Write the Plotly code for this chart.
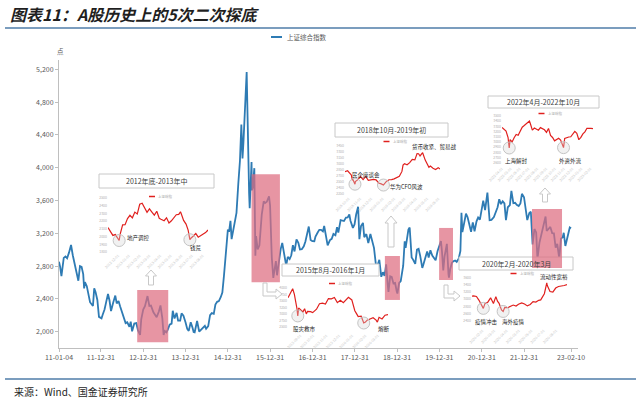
import plotly.graph_objects as go

W, H = 640, 403
def px(x): return x / W
def py(y): return 1 - y / H

FONT = "Noto Sans CJK SC"

# ---------------- main series: 上证综合指数 ----------------
main_dates = [
 "2011-01-04","2011-01-14","2011-01-25","2011-02-14","2011-03-01","2011-03-15","2011-04-01","2011-04-18","2011-05-03","2011-05-16",
 "2011-06-01","2011-06-20","2011-07-04","2011-07-18","2011-08-01","2011-08-09","2011-08-16","2011-09-01","2011-09-15","2011-09-29",
 "2011-10-24","2011-11-04","2011-11-16","2011-12-01","2011-12-15","2011-12-28",
 "2012-01-06","2012-01-16","2012-02-01","2012-02-15","2012-03-02","2012-03-15","2012-03-28","2012-04-16","2012-05-04","2012-05-16",
 "2012-06-01","2012-06-15","2012-07-02","2012-07-16","2012-08-01","2012-08-15","2012-09-03","2012-09-14","2012-09-26","2012-10-15",
 "2012-11-01","2012-11-16","2012-12-04","2012-12-14","2012-12-31",
 "2013-01-15","2013-02-06","2013-02-22","2013-03-08","2013-03-29","2013-04-15","2013-04-26","2013-05-15","2013-05-29","2013-06-14",
 "2013-06-25","2013-07-05","2013-07-19","2013-08-01","2013-08-16","2013-09-02","2013-09-12","2013-09-27","2013-10-15","2013-10-28",
 "2013-11-15","2013-11-27","2013-12-13","2013-12-31",
 "2014-01-15","2014-01-28","2014-02-14","2014-02-28","2014-03-11","2014-03-20","2014-04-10","2014-04-28","2014-05-15","2014-05-30",
 "2014-06-16","2014-06-27","2014-07-15","2014-07-31","2014-08-15","2014-09-01","2014-09-15","2014-09-30","2014-10-15","2014-10-31",
 "2014-11-14","2014-11-28","2014-12-09","2014-12-19","2014-12-31",
 "2015-01-12","2015-01-23","2015-02-02","2015-02-16","2015-03-02","2015-03-16","2015-04-01","2015-04-15","2015-04-27","2015-05-07",
 "2015-05-15","2015-05-28","2015-06-01","2015-06-12","2015-06-19","2015-06-26","2015-07-03","2015-07-08","2015-07-15","2015-07-24",
 "2015-07-27","2015-08-04","2015-08-17","2015-08-26","2015-09-01","2015-09-15","2015-09-30","2015-10-20","2015-11-06","2015-11-18",
 "2015-12-03","2015-12-22","2015-12-31",
 "2016-01-07","2016-01-15","2016-01-28","2016-02-19","2016-02-29","2016-03-15","2016-04-01","2016-04-14","2016-04-29","2016-05-18",
 "2016-06-01","2016-06-17","2016-07-01","2016-07-15","2016-07-29","2016-08-15","2016-08-31","2016-09-14","2016-09-30","2016-10-17",
 "2016-10-31","2016-11-15","2016-11-29","2016-12-15","2016-12-30",
 "2017-01-16","2017-01-26","2017-02-15","2017-02-28","2017-03-15","2017-03-31","2017-04-11","2017-04-28","2017-05-11","2017-05-31",
 "2017-06-15","2017-06-30","2017-07-17","2017-07-31","2017-08-11","2017-08-31","2017-09-15","2017-09-29","2017-10-16","2017-10-31",
 "2017-11-14","2017-11-24","2017-12-15","2017-12-29",
 "2018-01-12","2018-01-29","2018-02-09","2018-02-23","2018-03-12","2018-03-23","2018-04-10","2018-04-27","2018-05-15","2018-05-31",
 "2018-06-15","2018-06-29","2018-07-06","2018-07-20","2018-07-31","2018-08-17","2018-08-31","2018-09-14","2018-09-28","2018-10-11",
 "2018-10-18","2018-11-02","2018-11-15","2018-11-30","2018-12-14","2018-12-28",
 "2019-01-03","2019-01-18","2019-02-01","2019-02-22","2019-03-07","2019-03-15","2019-04-08","2019-04-19","2019-05-06","2019-05-17",
 "2019-06-06","2019-06-21","2019-07-05","2019-07-19","2019-08-06","2019-08-16","2019-09-02","2019-09-17","2019-09-30","2019-10-15",
 "2019-10-31","2019-11-15","2019-11-29","2019-12-16","2019-12-31",
 "2020-01-14","2020-01-23","2020-02-03","2020-02-14","2020-03-05","2020-03-19","2020-03-23","2020-04-03","2020-04-17","2020-04-30",
 "2020-05-15","2020-05-29","2020-06-15","2020-06-30","2020-07-09","2020-07-17","2020-07-31","2020-08-17","2020-08-31","2020-09-15",
 "2020-09-30","2020-10-15","2020-10-30","2020-11-16","2020-11-30","2020-12-15","2020-12-31",
 "2021-01-13","2021-01-29","2021-02-18","2021-03-09","2021-03-25","2021-04-15","2021-04-30","2021-05-17","2021-05-31","2021-06-15",
 "2021-06-30","2021-07-15","2021-07-28","2021-08-13","2021-08-31","2021-09-13","2021-09-30","2021-10-15","2021-10-29","2021-11-15",
 "2021-11-30","2021-12-13","2021-12-31",
 "2022-01-14","2022-01-28","2022-02-15","2022-02-28","2022-03-15","2022-03-31","2022-04-15","2022-04-26","2022-05-13","2022-05-31",
 "2022-06-15","2022-07-05","2022-07-15","2022-07-29","2022-08-15","2022-08-31","2022-09-15","2022-09-30","2022-10-14","2022-10-31",
 "2022-11-15","2022-11-30","2022-12-09","2022-12-23","2022-12-30",
 "2023-01-13","2023-01-30","2023-02-10",
]
main_values = [
 2852,2791,2677,2900,2918,2896,2967,3057,2932,2860,
 2743,2621,2800,2790,2702,2527,2605,2555,2442,2359,
 2313,2528,2480,2387,2181,2163,
 2163,2206,2270,2360,2460,2380,2252,2357,2440,2345,
 2373,2306,2226,2170,2104,2115,2060,2123,2004,2100,
 2105,2015,1960,2151,2269,
 2310,2434,2314,2318,2237,2194,2177,2246,2321,2162,
 1959,2007,1992,2029,2085,2098,2255,2160,2230,2134,
 2135,2223,2196,2116,
 2034,2010,2115,2056,1997,1993,2130,2002,2025,2039,
 2072,2036,2067,2201,2226,2217,2331,2364,2373,2420,
 2478,2683,2856,3108,3235,
 3229,3351,3128,3246,3336,3449,3810,4084,4527,4112,
 4308,4620,4828,5166,4478,4192,3687,3507,3805,4070,
 3725,3756,3994,2927,3166,3005,3053,3425,3590,3568,
 3584,3651,3539,
 3125,2900,2656,2860,2688,2864,3010,3082,2938,2807,
 2913,2885,2932,3054,2979,3125,3085,3002,3005,3041,
 3100,3207,3282,3118,3104,
 3103,3159,3213,3242,3241,3223,3289,3155,3053,3117,
 3132,3192,3176,3273,3208,3361,3353,3349,3391,3393,
 3430,3353,3266,3307,
 3429,3523,3129,3289,3327,3153,3190,3082,3192,3095,
 3022,2847,2747,2829,2876,2669,2725,2681,2821,2583,
 2486,2676,2668,2588,2594,2494,
 2464,2596,2618,2804,3102,3021,3244,3270,2906,2882,
 2828,3001,3011,2924,2778,2823,2924,2979,2905,2992,
 2929,2891,2871,2984,3050,
 3106,2976,2746,2917,3071,2702,2660,2764,2838,2860,
 2868,2852,2890,2985,3451,3215,3310,3438,3396,3295,
 3218,3332,3225,3346,3392,3367,3473,
 3598,3483,3696,3360,3364,3398,3447,3518,3615,3556,
 3591,3564,3361,3517,3544,3716,3568,3572,3547,3533,
 3564,3681,3640,
 3521,3361,3446,3462,3064,3252,3211,2886,3084,3186,
 3305,3405,3228,3253,3277,3202,3199,3024,3072,2893,
 3135,3151,3206,3045,3089,
 3195,3270,3260,
]

tick_dates = ["2011-01-04","2011-12-31","2012-12-31","2013-12-31","2014-12-31","2015-12-31","2016-12-31",
              "2017-12-31","2018-12-31","2019-12-31","2020-12-31","2021-12-31","2023-02-10"]
tick_text = ["11-01-04","11-12-31","12-12-31","13-12-31","14-12-31","15-12-31","16-12-31",
             "17-12-31","18-12-31","19-12-31","20-12-31","21-12-31","23-02-10"]
y_ticks = [2000, 2400, 2800, 3200, 3600, 4000, 4400, 4800, 5200]

# highlighted windows (二次探底区间)
hl_start = ["2012-11-09","2015-07-24","2018-09-17","2019-12-29","2022-03-10"]
hl_end   = ["2013-08-04","2016-03-25","2019-01-25","2020-04-27","2022-11-24"]
hl_low   = [1871, 2602, 2387, 2630, 2777]
hl_high  = [2509, 3920, 2923, 3265, 3496]

# ---------------- inset series ----------------
ins1_dates = ["2012-11-02","2012-11-09","2012-11-16","2012-11-23","2012-11-30","2012-12-04","2012-12-07","2012-12-14","2012-12-21","2012-12-28",
              "2013-01-04","2013-01-11","2013-01-18","2013-01-25","2013-02-01","2013-02-06","2013-02-08","2013-02-22","2013-03-01","2013-03-08",
              "2013-03-15","2013-03-22","2013-03-29","2013-04-03","2013-04-12","2013-04-19","2013-04-26","2013-05-03","2013-05-10","2013-05-17",
              "2013-05-24","2013-05-29","2013-05-31","2013-06-07","2013-06-14","2013-06-20","2013-06-25","2013-06-28","2013-07-05","2013-07-12",
              "2013-07-19","2013-07-26","2013-08-02","2013-08-09","2013-08-16"]
ins1_values = [2117,2069,2015,2026,1980,1949,2033,2151,2153,2233,
               2276,2243,2317,2292,2419,2434,2432,2314,2359,2318,
               2278,2328,2237,2225,2206,2244,2177,2205,2246,2283,
               2288,2321,2300,2210,2162,2084,1959,1979,2007,2039,
               1992,2010,2029,2052,2085]
ins1_marks_d = ["2012-12-04","2013-06-25"]
ins1_marks_v = [1949, 1959]

ins2_dates = ["2015-08-03","2015-08-07","2015-08-14","2015-08-18","2015-08-21","2015-08-24","2015-08-26","2015-08-28","2015-09-02","2015-09-07",
              "2015-09-11","2015-09-15","2015-09-18","2015-09-25","2015-09-30","2015-10-09","2015-10-16","2015-10-23","2015-10-30","2015-11-06",
              "2015-11-13","2015-11-20","2015-11-27","2015-12-04","2015-12-11","2015-12-18","2015-12-23","2015-12-31","2016-01-04","2016-01-07",
              "2016-01-11","2016-01-15","2016-01-22","2016-01-26","2016-01-28","2016-02-01","2016-02-05","2016-02-19","2016-02-26","2016-02-29",
              "2016-03-04","2016-03-11","2016-03-18","2016-03-25"]
ins2_values = [3623,3744,3965,3749,3508,3210,2927,3232,3160,3080,
               3200,3005,3097,3092,3053,3183,3391,3412,3383,3590,
               3580,3630,3436,3525,3434,3578,3636,3539,3296,3125,
               3016,2900,2916,2750,2656,2689,2763,2860,2767,2688,
               2874,2810,2955,2979]
ins2_marks_d = ["2015-08-26","2016-01-28"]
ins2_marks_v = [2927, 2656]

ins3_dates = ["2018-09-21","2018-09-28","2018-10-08","2018-10-11","2018-10-12","2018-10-18","2018-10-19","2018-10-26","2018-11-02","2018-11-09",
              "2018-11-16","2018-11-23","2018-11-30","2018-12-07","2018-12-14","2018-12-21","2018-12-28","2019-01-03","2019-01-11","2019-01-18",
              "2019-01-25","2019-02-01","2019-02-15","2019-02-22","2019-02-25","2019-03-01","2019-03-08","2019-03-15","2019-03-22","2019-03-29",
              "2019-04-04","2019-04-08","2019-04-12","2019-04-19","2019-04-26","2019-05-06","2019-05-10","2019-05-17","2019-05-24","2019-05-31",
              "2019-06-05"]
ins3_values = [2797,2821,2716,2583,2606,2486,2550,2598,2676,2599,
               2679,2579,2588,2606,2594,2516,2494,2464,2554,2596,
               2601,2618,2682,2804,2961,2994,2969,3021,3104,3091,
               3247,3244,3189,3270,3086,2906,2939,2882,2853,2898,
               2862]
ins3_marks_d = ["2018-10-18","2019-01-03"]
ins3_marks_v = [2486, 2464]

ins4_dates = ["2020-01-06","2020-01-10","2020-01-17","2020-01-23","2020-02-03","2020-02-07","2020-02-14","2020-02-21","2020-02-28","2020-03-05",
              "2020-03-09","2020-03-13","2020-03-16","2020-03-19","2020-03-23","2020-03-27","2020-04-03","2020-04-10","2020-04-17","2020-04-24",
              "2020-04-30","2020-05-08","2020-05-15","2020-05-22","2020-05-29","2020-06-05","2020-06-12","2020-06-19","2020-06-24","2020-07-03",
              "2020-07-06","2020-07-09","2020-07-10","2020-07-17","2020-07-24","2020-07-31","2020-08-07","2020-08-14","2020-08-21","2020-08-28"]
ins4_values = [3083,3092,3075,2976,2746,2876,2917,3039,2880,3071,
               2943,2887,2789,2702,2660,2772,2764,2797,2838,2809,
               2860,2895,2868,2814,2852,2931,2920,2968,2980,3153,
               3332,3451,3384,3215,3197,3310,3354,3360,3381,3403]
ins4_marks_d = ["2020-02-03","2020-03-23"]
ins4_marks_v = [2746, 2660]

ins5_dates = ["2022-04-01","2022-04-08","2022-04-15","2022-04-22","2022-04-26","2022-04-29","2022-05-06","2022-05-13","2022-05-20","2022-05-27",
              "2022-06-02","2022-06-10","2022-06-17","2022-06-24","2022-07-01","2022-07-05","2022-07-08","2022-07-15","2022-07-22","2022-07-29",
              "2022-08-05","2022-08-12","2022-08-19","2022-08-26","2022-09-02","2022-09-09","2022-09-16","2022-09-23","2022-09-30","2022-10-14",
              "2022-10-21","2022-10-28","2022-10-31","2022-11-04","2022-11-11","2022-11-18","2022-11-25","2022-12-02","2022-12-09","2022-12-16",
              "2022-12-23","2022-12-30","2023-01-06","2023-01-13","2023-01-20","2023-02-03","2023-02-10"]
ins5_values = [3282,3251,3211,3087,2886,3047,3001,3084,3147,3131,
               3195,3285,3317,3350,3388,3405,3357,3228,3270,3253,
               3227,3277,3258,3236,3186,3262,3126,3088,3024,3072,
               3038,2916,2893,3071,3087,3097,3101,3156,3206,3168,
               3045,3089,3157,3195,3265,3263,3260]
ins5_marks_d = ["2022-04-26","2022-10-31"]
ins5_marks_v = [2886, 2893]

# ---------------- figure ----------------
fig = go.Figure()
BLUE = "#2E7BB4"
RED = "#E0201E"
GRAY_AX = "#BFBFBF"
TXT = "#595959"

fig.add_trace(go.Scatter(x=main_dates, y=main_values, mode="lines",
                         line=dict(color=BLUE, width=1.8), xaxis="x", yaxis="y",
                         showlegend=False, hoverinfo="skip"))

layout = dict(
    width=W, height=H, margin=dict(l=0, r=0, t=0, b=0),
    paper_bgcolor="white", plot_bgcolor="rgba(0,0,0,0)",
    template="none", showlegend=False,
    font=dict(family=FONT, color=TXT),
    xaxis=dict(domain=[px(59), px(578)], type="date", range=["2011-01-04", "2023-04-11"],
               tickvals=tick_dates, ticktext=tick_text, tickfont=dict(size=7, color=TXT),
               showline=True, linecolor=GRAY_AX, linewidth=1, ticks="outside", ticklen=3,
               tickcolor=GRAY_AX, showgrid=False, zeroline=False, automargin=False, anchor="y"),
    yaxis=dict(domain=[py(348), py(60)], range=[1801, 5313], tickvals=y_ticks,
               tickformat=",", tickfont=dict(size=7, color=TXT), showline=True,
               linecolor=GRAY_AX, linewidth=1, ticks="outside", ticklen=3, tickcolor=GRAY_AX,
               showgrid=False, zeroline=False, automargin=False, anchor="x"),
)

insets = [
    dict(d=ins1_dates, v=ins1_values, md=ins1_marks_d, mv=ins1_marks_v,
         dom=(108, 208, 198, 252), yr=(1800, 2500), dt=100,
         title="2012年底-2013年中", box=(99, 214, 174, 188),
         labels=[("地产调控", 125, 238, "left"), ("钱荒", 188, 248, "left")]),
    dict(d=ins2_dates, v=ins2_values, md=ins2_marks_d, mv=ins2_marks_v,
         dom=(288, 388, 285, 332), yr=(2312, 4109), dt=250,
         title="2015年8月-2016年1月", box=(282, 379, 264, 276),
         labels=[("股灾救市", 291, 329, "left"), ("熔断", 376, 329, "left")]),
    dict(d=ins3_dates, v=ins3_values, md=ins3_marks_d, mv=ins3_marks_v,
         dom=(345, 440, 143, 195), yr=(2216, 3512), dt=150,
         title="2018年10月-2019年初", box=(335, 448, 123, 137),
         labels=[("民企座谈会", 350, 175, "left"), ("华为CFO风波", 388, 187, "left"),
                 ("货币收紧、贸易战", 410, 147, "left")]),
    dict(d=ins4_dates, v=ins4_values, md=ins4_marks_d, mv=ins4_marks_v,
         dom=(472, 567, 275, 327), yr=(2228, 3672), dt=200,
         title="2020年2月-2020年3月", box=(459, 573, 257, 270),
         labels=[("疫情冲击", 473, 322, "left"), ("海外疫情", 500, 322, "left"),
                 ("流动性宽裕", 538, 277, "left")]),
    dict(d=ins5_dates, v=ins5_values, md=ins5_marks_d, mv=ins5_marks_v,
         dom=(502, 593, 115, 165), yr=(2559, 3520), dt=100,
         title="2022年4月-2022年10月", box=(488, 599, 96, 108),
         labels=[("上海解封", 503, 161, "left"), ("外资外流", 557, 161, "left")]),
]

shapes = []
annotations = []

for i, ins in enumerate(insets):
    k = i + 2
    xa, ya = f"x{k}", f"y{k}"
    x0, x1, y0, y1 = ins["dom"]
    fig.add_trace(go.Scatter(x=ins["d"], y=ins["v"], mode="lines",
                             line=dict(color=RED, width=1.2), xaxis=xa, yaxis=ya,
                             showlegend=False, hoverinfo="skip"))
    fig.add_trace(go.Scatter(x=ins["md"], y=ins["mv"], mode="markers",
                             marker=dict(size=12, color="rgba(215,215,215,0.35)",
                                         line=dict(color="#C4C4C4", width=1)),
                             xaxis=xa, yaxis=ya, showlegend=False, hoverinfo="skip"))
    layout[f"xaxis{k}"] = dict(domain=[px(x0), px(x1)], type="date",
                               range=[ins["d"][0], ins["d"][-1]], anchor=ya,
                               showgrid=False, zeroline=False, showline=False,
                               tickangle=-45, tickformat="%Y-%m-%d", nticks=11,
                               tickfont=dict(size=3.5, color="#C8C8C8"), ticks="",
                               automargin=False)
    layout[f"yaxis{k}"] = dict(domain=[py(y1), py(y0)], range=list(ins["yr"]), anchor=xa,
                               showgrid=False, zeroline=False, showline=False, dtick=ins["dt"],
                               tickfont=dict(size=3.5, color="#B0B0B0"), ticks="",
                               automargin=False)
    # title box
    bx0, bx1, by0, by1 = ins["box"]
    shapes.append(dict(type="rect", xref="paper", yref="paper",
                       x0=px(bx0), x1=px(bx1), y0=py(by1), y1=py(by0),
                       line=dict(color="#C8C8C8", width=1), fillcolor="white", layer="above"))
    annotations.append(dict(text=ins["title"], x=px((bx0 + bx1) / 2), y=py((by0 + by1) / 2),
                            xref="paper", yref="paper", showarrow=False,
                            font=dict(size=7, color="#404040", family=FONT),
                            xanchor="center", yanchor="middle"))
    # tiny legend
    cx = (x0 + x1) / 2
    ly = y0 - 1.5
    shapes.append(dict(type="line", xref="paper", yref="paper",
                       x0=px(cx - 9), x1=px(cx - 3), y0=py(ly), y1=py(ly),
                       line=dict(color=RED, width=1.5), layer="above"))
    annotations.append(dict(text="上证综指", x=px(cx - 2), y=py(ly), xref="paper", yref="paper",
                            showarrow=False, font=dict(size=3.5, color="#A0A0A0", family=FONT),
                            xanchor="left", yanchor="middle"))
    for (t, lx, lyy, anc) in ins["labels"]:
        annotations.append(dict(text=t, x=px(lx), y=py(lyy), xref="paper", yref="paper",
                                showarrow=False, font=dict(size=5.5, color="#262626", family=FONT),
                                xanchor=anc, yanchor="middle"))

# pink highlight windows on the main axes
for s, e, lo, hi in zip(hl_start, hl_end, hl_low, hl_high):
    shapes.append(dict(type="rect", xref="x", yref="y", x0=s, x1=e, y0=lo, y1=hi,
                       fillcolor="rgba(222,108,128,0.72)", line=dict(width=0), layer="above"))

# hollow arrows
def P(pts):
    return "M " + " L ".join(f"{px(x):.5f},{py(y):.5f}" for x, y in pts) + " Z"

def up_arrow(cx, top, bottom, w=5, hw=11, hh=6):
    return P([(cx, top), (cx + hw / 2, top + hh), (cx + w / 2, top + hh), (cx + w / 2, bottom),
              (cx - w / 2, bottom), (cx - w / 2, top + hh), (cx - hw / 2, top + hh)])

arrow_paths = [
    up_arrow(151, 270, 285),
    up_arrow(391, 216, 247, w=6, hw=12, hh=7),
    up_arrow(545, 188, 202),
    P([(263, 283), (267, 283), (267, 292), (276, 292), (276, 289), (282, 294),
       (276, 299), (276, 296), (263, 296)]),
    P([(444, 285), (448, 285), (448, 294), (454, 294), (454, 291), (460, 296),
       (454, 301), (454, 298), (444, 298)]),
]
for p in arrow_paths:
    shapes.append(dict(type="path", xref="paper", yref="paper", path=p,
                       line=dict(color="#C8C8C8", width=1), fillcolor="white", layer="above"))

# header / footer rules
shapes.append(dict(type="line", xref="paper", yref="paper", x0=px(5), x1=px(636),
                   y0=py(28), y1=py(28), line=dict(color="#4F7CA8", width=1.5)))
shapes.append(dict(type="line", xref="paper", yref="paper", x0=px(5), x1=px(636),
                   y0=py(379), y1=py(379), line=dict(color="#4F7CA8", width=1.5)))
# main legend sample
shapes.append(dict(type="line", xref="paper", yref="paper", x0=px(271), x1=px(282),
                   y0=py(37), y1=py(37), line=dict(color=BLUE, width=2)))

annotations += [
    dict(text="<b><i>图表11：A股历史上的5次二次探底</i></b>", x=px(8), y=py(14), xref="paper", yref="paper",
         showarrow=False, xanchor="left", yanchor="middle",
         font=dict(size=16, color="#1F1F1F", family=FONT)),
    dict(text="上证综合指数", x=px(285), y=py(37), xref="paper", yref="paper", showarrow=False,
         xanchor="left", yanchor="middle", font=dict(size=6.5, color=TXT, family=FONT)),
    dict(text="点", x=px(60), y=py(51), xref="paper", yref="paper", showarrow=False,
         xanchor="center", yanchor="middle", font=dict(size=6.5, color=TXT, family=FONT)),
    dict(text="来源：Wind、国金证券研究所", x=px(12), y=py(391), xref="paper", yref="paper",
         showarrow=False, xanchor="left", yanchor="middle",
         font=dict(size=10, color="#262626", family=FONT)),
]

layout["shapes"] = shapes
layout["annotations"] = annotations
fig.update_layout(**layout)
fig.write_html("out.html")
